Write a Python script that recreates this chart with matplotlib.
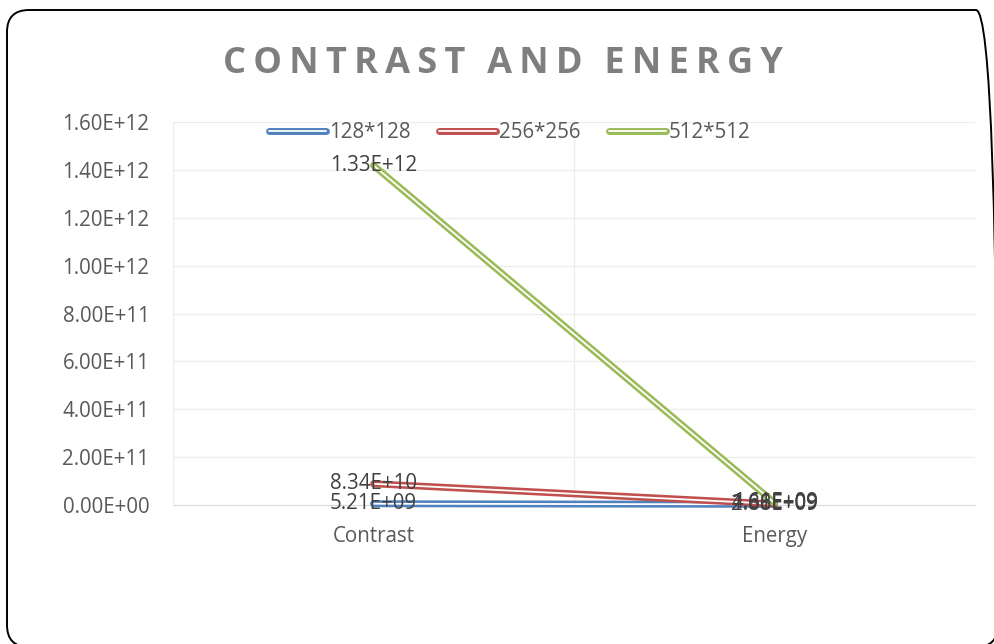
import matplotlib
matplotlib.use("Agg")
import numpy as np
import matplotlib.pyplot as plt
import matplotlib.patheffects as pe
from matplotlib.patches import FancyBboxPatch
from matplotlib.transforms import IdentityTransform

# --- data ---
categories = ['Contrast', 'Energy']
series_names = ['128*128', '256*256', '512*512']
s128 = [5.21e9, 2.88e9]
s256 = [8.34e10, 1.66e9]
s512 = [1.33e12, 4.61e9]
colors = ['#4F81BD', '#C0504D', '#9BBB59']
yticks = np.arange(0, 1.61e12, 2e11)

plt.rcParams['font.family'] = ['Open Sans', 'DejaVu Sans']
FS = 14.8

fig = plt.figure(figsize=(9.94, 6.44), dpi=100)
ax = fig.add_axes([173 / 994, 139 / 644, 802 / 994, 383 / 644])

# rounded outer border (pixel coords, runs to the edges like the source)
border = FancyBboxPatch((7, -3), 991, 637,
                        boxstyle="round,pad=0,rounding_size=22",
                        transform=IdentityTransform(), fill=False,
                        edgecolor='black', linewidth=1.4, clip_on=False)
fig.patches.append(border)

x = np.arange(len(categories))
# stacked line chart
bottom = np.zeros(len(categories))
for name, vals, c in zip(series_names, [s128, s256, s512], colors):
    top = bottom + np.array(vals)
    ax.plot(x, top, color='white', lw=1.3, label=name,
            solid_capstyle='round', zorder=3, clip_on=False,
            path_effects=[pe.Stroke(linewidth=5, foreground=c, capstyle='round'),
                          pe.Normal()])
    for xi, yi, v in zip(x, top, vals):
        ax.text(xi, yi, f'{v:.2E}', ha='center', va='center',
                fontsize=FS, color='#404040', zorder=4)
    bottom = top

ax.set_xlim(-0.5, 1.5)
ax.set_ylim(0, 1.6e12)
ax.set_yticks(yticks)
ax.set_yticklabels([f'{v:.2E}' for v in yticks])
ax.set_xticks(x)
ax.set_xticklabels(categories)
ax.tick_params(axis='both', length=0, labelsize=FS, colors='#595959')
ax.tick_params(axis='x', pad=15)
ax.tick_params(axis='y', pad=17)

for s in ['left', 'right', 'top']:
    ax.spines[s].set_visible(False)
ax.spines['bottom'].set_color('#d9d9d9')
ax.grid(axis='y', color='#ececec', lw=0.9)
for xv in [-0.5, 0.5, 1.5]:
    ax.axvline(xv, color='#ececec', lw=0.9, zorder=0)
ax.set_axisbelow(True)

leg = ax.legend(loc='upper center', bbox_to_anchor=(0.42, 1.048), ncol=3,
                frameon=False, fontsize=FS, handlelength=2.75,
                handletextpad=0.15, columnspacing=1.4, labelcolor='#595959')

fig.text(0.506, 0.90, 'C O N T R A S T   A N D   E N E R G Y'.replace(' ', '\u2009'),
         ha='center', va='center', fontsize=26, fontweight='bold', color='#7f7f7f')

fig.savefig('out.png', dpi=100)
